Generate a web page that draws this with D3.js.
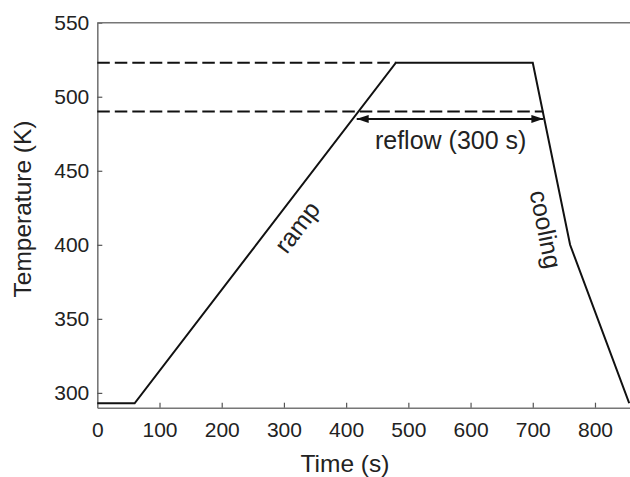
<!DOCTYPE html>
<html>
<head>
<meta charset="utf-8">
<script src="https://cdn.jsdelivr.net/npm/d3@7"></script>
<style>
  body { margin: 0; background: #fff; }
  text { font-family: "Liberation Sans", Arial, sans-serif; fill: #222; }
</style>
</head>
<body>
<div id="chart"></div>
<script>
// Reflow temperature profile
const profileTime = [0, 60, 480, 700, 760, 855];
const profileTemp = [293, 293, 523, 523, 400, 293];

// Dashed reference levels and where they stop (s)
const dashLevels = [523, 490];
const dashEnds = [480, 717];

// Reflow window arrow
const reflowSpan = [417, 717];
const reflowTemp = 485;

const xTicks = [0, 100, 200, 300, 400, 500, 600, 700, 800];
const yTicks = [300, 350, 400, 450, 500, 550];

const width = 630;
const height = 477;

const svg = d3.select("#chart").append("svg")
    .attr("width", width)
    .attr("height", height);

// Scales
const x = d3.scaleLinear().domain([0, 860]).range([97.3, 97.3 + 860 * 0.6221]);
const y = d3.scaleLinear().domain([290, 550]).range([407.7, 22.7]);

svg.append("defs").append("marker")
    .attr("id", "head")
    .attr("viewBox", "0 0 12 8")
    .attr("refX", 12).attr("refY", 4)
    .attr("markerWidth", 12).attr("markerHeight", 8)
    .attr("markerUnits", "userSpaceOnUse")
    .attr("orient", "auto-start-reverse")
  .append("path")
    .attr("d", "M0,0 L12,4 L0,8 Z")
    .attr("fill", "#111");

// Axes (ticks pointing inward)
const xAxis = svg.append("g")
    .attr("transform", `translate(0,${y(290)})`)
    .call(d3.axisBottom(x).tickValues(xTicks).tickSizeInner(-5).tickSizeOuter(0).tickPadding(14));

const yAxis = svg.append("g")
    .attr("transform", `translate(${x(0)},0)`)
    .call(d3.axisLeft(y).tickValues(yTicks).tickSizeInner(-5).tickSizeOuter(0).tickPadding(8));

[xAxis, yAxis].forEach(g => {
    g.select(".domain").attr("stroke", "#777").attr("stroke-width", 1.6);
    g.selectAll(".tick line").attr("stroke", "#555").attr("stroke-width", 1.2);
    g.selectAll(".tick text").attr("font-size", 21).attr("fill", "#222")
        .attr("font-family", "Liberation Sans, Arial, sans-serif");
});
xAxis.selectAll(".tick").filter(d => d === 0).select("line").remove();

// Top frame line
svg.append("line")
    .attr("x1", x(0)).attr("x2", width)
    .attr("y1", y(550)).attr("y2", y(550))
    .attr("stroke", "#777").attr("stroke-width", 1.6);

// Dashed levels
dashLevels.forEach((lvl, i) => {
    svg.append("line")
        .attr("x1", x(0)).attr("x2", x(dashEnds[i]))
        .attr("y1", y(lvl)).attr("y2", y(lvl))
        .attr("stroke", "#111").attr("stroke-width", 2)
        .attr("stroke-dasharray", "12.5,5");
});

// Profile line
const line = d3.line()
    .x((d, i) => x(profileTime[i]))
    .y(d => y(d));

svg.append("path")
    .datum(profileTemp)
    .attr("d", line)
    .attr("fill", "none")
    .attr("stroke", "#111")
    .attr("stroke-width", 2)
    .attr("stroke-linejoin", "miter");

// Reflow arrow
svg.append("line")
    .attr("x1", x(reflowSpan[0])).attr("x2", x(reflowSpan[1]))
    .attr("y1", y(reflowTemp)).attr("y2", y(reflowTemp))
    .attr("stroke", "#111").attr("stroke-width", 2)
    .attr("marker-start", "url(#head)")
    .attr("marker-end", "url(#head)");

// Annotations
svg.append("text")
    .attr("x", x(568)).attr("y", y(464.5))
    .attr("text-anchor", "middle")
    .attr("font-size", 25)
    .text("reflow (300 s)");

svg.append("text")
    .attr("transform", `translate(${x(321)},${y(412)}) rotate(-52.6)`)
    .attr("text-anchor", "middle")
    .attr("dy", "0.35em")
    .attr("font-size", 25)
    .text("ramp");

svg.append("text")
    .attr("transform", `translate(${x(721)},${y(410.5)}) rotate(78.6)`)
    .attr("text-anchor", "middle")
    .attr("dy", "0.35em")
    .attr("font-size", 25)
    .text("cooling");

// Axis titles
svg.append("text")
    .attr("x", 345).attr("y", 472)
    .attr("text-anchor", "middle")
    .attr("font-size", 24.5)
    .text("Time (s)");

svg.append("text")
    .attr("transform", "translate(31,209) rotate(-90)")
    .attr("text-anchor", "middle")
    .attr("font-size", 24.5)
    .text("Temperature (K)");
</script>
</body>
</html>
